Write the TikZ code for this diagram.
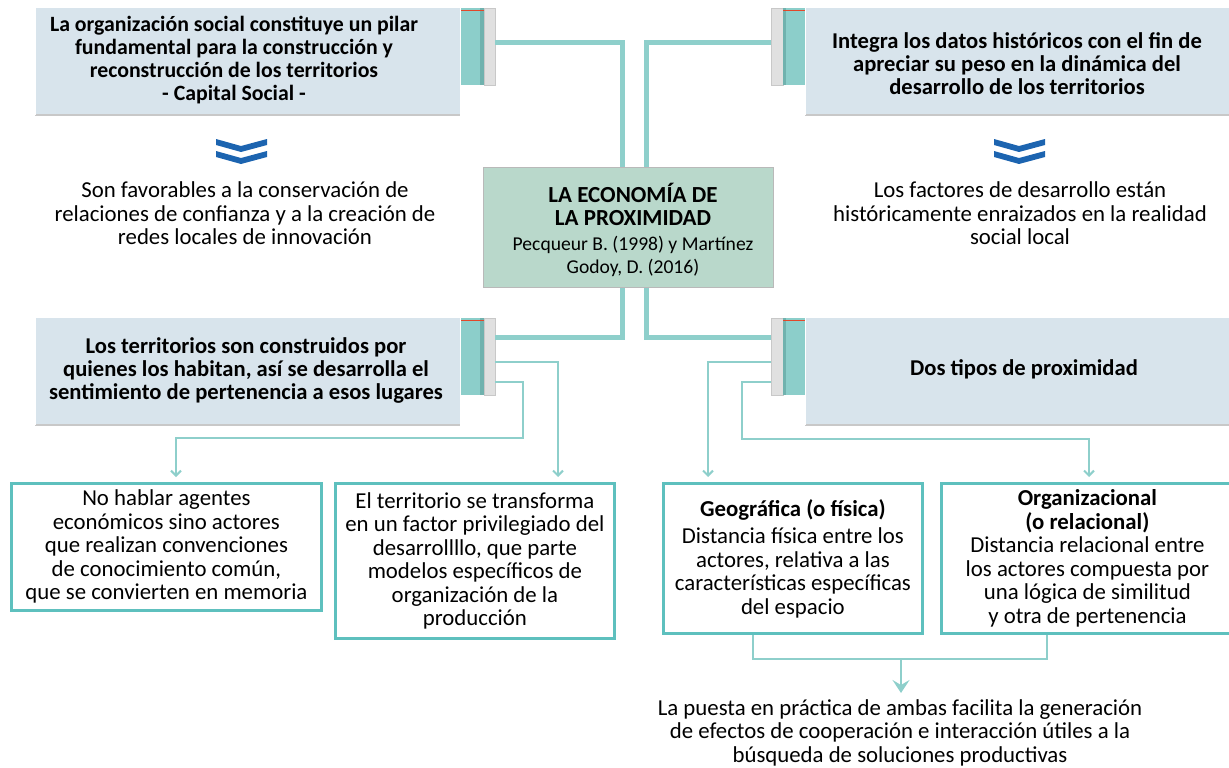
\documentclass[tikz,border=0pt]{standalone}
\usepackage{fontspec}
\setmainfont{Carlito}
\usetikzlibrary{arrows.meta,calc}
\definecolor{boxblue}{RGB}{216,228,236}
\definecolor{tabteal}{RGB}{140,206,202}
\definecolor{tabdark}{RGB}{112,178,174}
\definecolor{tabgrey}{RGB}{224,224,224}
\definecolor{greyedge}{RGB}{200,200,200}
\definecolor{redline}{RGB}{226,72,42}
\definecolor{conn}{RGB}{142,207,203}
\definecolor{bordc}{RGB}{94,192,190}
\definecolor{ctrgreen}{RGB}{185,216,203}
\definecolor{chevblue}{RGB}{28,100,176}
\begin{document}
\begin{tikzpicture}[x=1pt,y=-1pt,
  bluebox/.style={fill=boxblue,draw=none,anchor=north west,inner sep=0,outer sep=0},
  tealtab/.style={fill=tabteal,draw=none,anchor=north west,inner sep=0,outer sep=0,minimum width=23pt,minimum height=77pt},
  greytab/.style={fill=tabgrey,draw=greyedge,line width=0.6pt,anchor=north west,inner sep=0,outer sep=0,minimum width=11pt,minimum height=77pt},
  btxt/.style={align=center,font=\bfseries\fontsize{22.6}{23}\selectfont,inner sep=0},
  rtxt/.style={align=center,font=\fontsize{22.8}{23.5}\selectfont,inner sep=0},
  lowbox/.style={draw=bordc,line width=2.8pt,fill=white,anchor=north west,inner sep=0,align=center,font=\fontsize{22.8}{23.5}\selectfont},
  thickc/.style={draw=conn,line width=5pt},
  thinc/.style={draw=conn,line width=2.6pt,-{Straight Barb[length=5pt,width=10pt,line width=2pt]}},
  shadowl/.style={draw=greyedge,line width=2pt}
]
\useasboundingbox (0,0) rectangle (1229,768);

% ---------- blue boxes ----------
\node[bluebox,minimum width=425pt,minimum height=107pt] (tl) at (35,8) {};
\node[bluebox,minimum width=430pt,minimum height=107pt] (tr) at (805,8) {};
\node[bluebox,minimum width=425pt,minimum height=107pt] (ml) at (35,318) {};
\node[bluebox,minimum width=430pt,minimum height=107pt] (mr) at (805,318) {};
\foreach \b in {tl,tr,ml,mr}{
  \draw[shadowl] (\b.south west) -- (\b.south east);
  \draw[draw=white,line width=1.5pt] (\b.north west) -- (\b.south west);
}

% ---------- tabs ----------
\node[tealtab] (tlt) at (461,8) {};
\node[greytab] (tlg) at (484,8) {};
\node[tealtab] (mlt) at (461,318) {};
\node[greytab] (mlg) at (484,318) {};
\node[greytab,minimum width=12pt] (trg) at (771,8) {};
\node[tealtab,minimum width=22pt] (trt) at (783,8) {};
\node[greytab,minimum width=12pt] (mrg) at (771,318) {};
\node[tealtab,minimum width=22pt] (mrt) at (783,318) {};
\foreach \t in {tlt,mlt}{
  \fill[tabdark] ($(\t.north east)+(-4,0)$) rectangle (\t.south east);
  \draw[redline,line width=1.2pt] ($(\t.north west)+(0,2.5)$) -- ($(\t.north east)+(0,2.5)$);
}
\foreach \t in {trt,mrt}{
  \fill[tabdark] (\t.north west) rectangle ($(\t.south west)+(3,0)$);
  \draw[redline,line width=1.2pt] ($(\t.north west)+(0,2.5)$) -- ($(\t.north east)+(0,2.5)$);
}

% ---------- center box ----------
\node[fill=ctrgreen,draw=gray!55,line width=0.8pt,anchor=north west,inner sep=0,minimum width=290pt,minimum height=120pt] (ctr) at (483,167) {};
\node[btxt,font=\bfseries\fontsize{23}{23}\selectfont] (ctrtitle) at (633,204.5) {LA ECONOMÍA DE\\LA PROXIMIDAD};
\node[rtxt,font=\fontsize{19.6}{23}\selectfont] (ctrcite) at (633,256.5) {Pecqueur B. (1998) y Martínez\\Godoy, D. (2016)};

% ---------- thick connectors ----------
\draw[thickc] ($(tlg.north east)+(0,35)$) -| ([xshift=-6pt]ctr.north);
\draw[thickc] ($(trg.north west)+(0,35)$) -| ([xshift=18pt]ctr.north);
\draw[thickc] ($(mlg.north east)+(0,19)$) -| ([xshift=-6pt]ctr.south);
\draw[thickc] ($(mrg.north west)+(0,19)$) -| ([xshift=18pt]ctr.south);

% ---------- box texts ----------
\node[btxt,font=\bfseries\fontsize{21.8}{23.3}\selectfont] (tltx) at (234,60) {La organización social constituye un pilar\\fundamental para la construcción y\\reconstrucción de los territorios\\- Capital Social -};
\node[btxt] (trtx) at (1017,63.5) {Integra los datos históricos con el fin de\\apreciar su peso en la dinámica del\\desarrollo de los territorios};
\node[btxt] (mltx) at (246,370.5) {Los territorios son construidos por\\quienes los habitan, así se desarrolla el\\sentimiento de pertenencia a esos lugares};
\node[btxt] (mrtx) at (1024,369) {Dos tipos de proximidad};

% ---------- chevrons ----------
\foreach \cx in {241,1019}{
  \foreach \dy in {0,12}{
    \fill[chevblue] (\cx-25,139+\dy) -- (\cx,146+\dy) -- (\cx+26,139+\dy) -- (\cx+26,145+\dy) -- (\cx,152+\dy) -- (\cx-25,145+\dy) -- cycle;
  }
}
\node[rtxt] (ltx) at (245,213.5) {Son favorables a la conservación de\\relaciones de confianza y a la creación de\\redes locales de innovación};
\node[rtxt] (rtx) at (1020,213.5) {Los factores de desarrollo están\\históricamente enraizados en la realidad\\social local};

% ---------- lower boxes ----------
\node[lowbox,minimum width=310pt,minimum height=127pt] (b1) at (10,482) {No hablar agentes\\económicos sino actores\\que realizan convenciones\\de conocimiento común,\\que se convierten en memoria};
\node[lowbox,minimum width=279pt,minimum height=155pt] (b2) at (334,482) {El territorio se transforma\\en un factor privilegiado del\\desarrollllo, que parte\\modelos específicos de\\organización de la\\producción};
\node[lowbox,minimum width=259pt,minimum height=150pt] (b3) at (662,482) {\textbf{Geográfica (o física)}\\[4pt]Distancia física entre los\\actores, relativa a las\\características específicas\\del espacio};
\node[lowbox,minimum width=292pt,minimum height=150pt] (b4) at (940,482) {\textbf{Organizacional}\\\textbf{(o relacional)}\\Distancia relacional entre\\los actores compuesta por\\una lógica de similitud\\y otra de pertenencia};

% ---------- thin connectors ----------
\draw[thinc] ($(mlg.north east)+(0,44)$) -| ([yshift=5pt]b2.north -| 558,0);
\draw[thinc] ($(mlg.north east)+(0,64)$) -- (523,382) -- (523,438) -| ([yshift=5pt]b1.north -| 176,0);
\draw[thinc] ($(mrg.north west)+(0,44)$) -| ([yshift=5pt]b3.north -| 708,0);
\draw[thinc] ($(mrg.north west)+(0,64)$) -- (742,382) -- (742,439) -| ([yshift=5pt]b4.north -| 1089,0);

% ---------- bottom ----------
\coordinate (jn) at (901,659);
\coordinate (arrEnd) at (901,693);
\draw[draw=conn,line width=2.6pt] (b3.south -| 753,0) |- (jn) -| (b4.south -| 1047,0);
\node[rtxt] (btx) at (900,732.5) {La puesta en práctica de ambas facilita la generación\\de efectos de cooperación e interacción útiles a la\\búsqueda de soluciones productivas};
\draw[draw=conn,line width=2.6pt,-{Stealth[length=13pt,width=17pt,inset=5pt]}] (jn) -- (arrEnd);
\end{tikzpicture}
\end{document}
